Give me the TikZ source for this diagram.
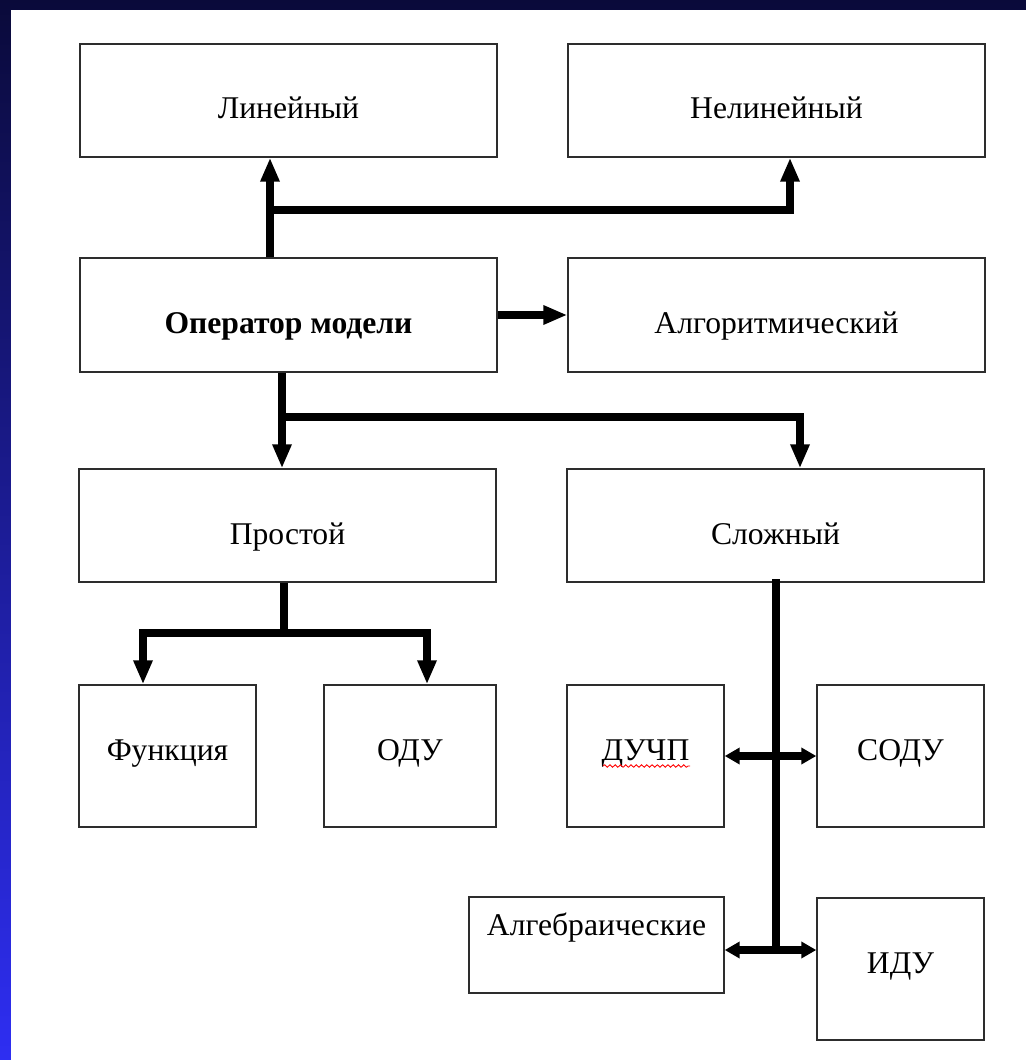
\documentclass[tikz,border=0pt]{standalone}
\usepackage{fontspec}
\setmainfont{Liberation Serif}
\usetikzlibrary{arrows.meta,decorations.pathmorphing}
\definecolor{fonTop}{RGB}{10,10,58}
\definecolor{fonBot}{RGB}{46,46,242}
\definecolor{rama}{RGB}{45,45,45}

\begin{document}
\begin{tikzpicture}[x=0.02cm,y=-0.02cm,
  blok/.style={draw=rama,line width=0.85pt,fill=white,inner sep=0pt,
    minimum width=8.34cm,minimum height=2.26cm,
    text height=0.74cm,text depth=0cm,font=\fontsize{18}{22}\selectfont},
  kub/.style={blok,minimum height=2.84cm,text height=0.42cm,text depth=0.26cm},
  liniya/.style={line width=4.5pt},
  strelka/.style={liniya,-{Triangle[length=0.48cm,width=0.36cm]}},
  dvoinaya/.style={line width=4pt,
    {Triangle[length=0.3cm,width=0.32cm]}-{Triangle[length=0.3cm,width=0.32cm]}}]
\useasboundingbox (0,0) rectangle (1026,1060);
\shade[top color=fonTop,bottom color=fonBot] (0,0) rectangle (1026,1060);
\fill[white] (11,10) rectangle (1026,1060);
%
\node[blok] (lin) at (288.5,100.5) {Линейный};
\node[blok] (nelin) at (776.5,100.5) {Нелинейный};
\node[blok,minimum height=2.28cm] (oper) at (288.5,315) {\bfseries Оператор модели};
\node[blok,minimum height=2.28cm] (algor) at (776.5,315) {Алгоритмический};
\node[blok] (prost) at (287.5,525.5) {Простой};
\node[blok] (slozh) at (775.5,525.5) {Сложный};
%
\node[kub,minimum width=3.54cm] (func) at (167.5,756) {Функция};
\node[kub,minimum width=3.44cm] (odu) at (410,756) {ОДУ};
\node[kub,minimum width=3.14cm] (duchp) at (645.5,756) {ДУЧП};
\node[kub,minimum width=3.34cm] (sodu) at (900.5,756) {СОДУ};
\node[kub,minimum width=5.1cm,minimum height=1.92cm,text depth=0.82cm] (algebr) at (596.5,945) {Алгебраические};
\node[kub,minimum width=3.34cm] (idu) at (900.5,969) {ИДУ};
\draw[red,line width=0.5pt,decorate,decoration={snake,amplitude=0.7pt,segment length=3pt}]
  (603,766) -- (690,766);
%
\coordinate (j1) at (270,210);
\coordinate (j2) at (790,210);
\coordinate (j3) at (282,417);
\coordinate (j4) at (800,417);
\coordinate (j5) at (284,633);
\coordinate (j6) at (143,633);
\coordinate (j7) at (427,633);
\coordinate (j8) at (776,950);
%
\draw[strelka] (oper.north -| j1) -- (lin.south -| j1);
\draw[strelka] (j1) -- (j2) -- (nelin.south -| j2);
\draw[strelka] (oper.east) -- (algor.west);
\draw[strelka] (oper.south -| j3) -- (prost.north -| j3);
\draw[strelka] (j3) -- (j4) -- (slozh.north -| j4);
\draw[liniya] (prost.south -| j5) -- (j5);
\draw[strelka] (j5) -- (j6) -- (func.north -| j6);
\draw[strelka] (j5) -- (j7) -- (odu.north -| j7);
\draw[liniya,line cap=rect] (slozh.south -| j8) -- (j8);
\draw[dvoinaya] (duchp.east) -- (sodu.west);
\draw[dvoinaya] (algebr.east |- j8) -- (idu.west |- j8);
\end{tikzpicture}
\end{document}
